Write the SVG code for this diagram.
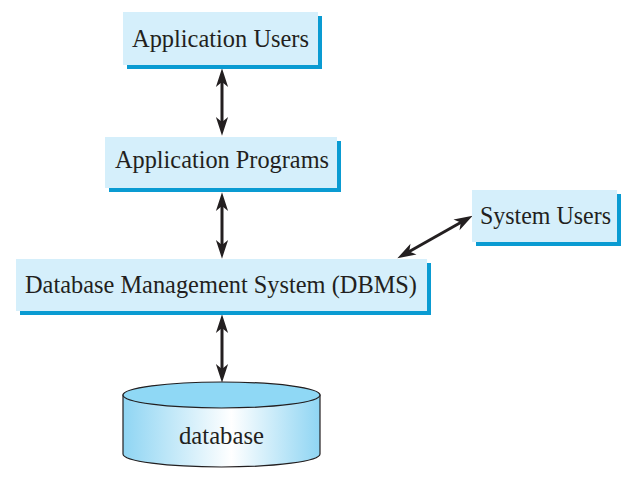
<svg xmlns="http://www.w3.org/2000/svg" width="634" height="479" viewBox="0 0 634 479">
  <style>
    .box { fill: #d5effb; }
    .shadow { fill: #0a9bd2; }
    .label { font-family: "Liberation Serif", "Times New Roman", serif; font-size: 24.4px; fill: #231f20; text-anchor: middle; }
    .conn { stroke: #231f20; stroke-width: 3; fill: none; marker-start: url(#arr); marker-end: url(#arr); }
    .cyl { stroke: #231f20; stroke-width: 1.2; }
  </style>
  <defs>
    <marker id="arr" markerUnits="userSpaceOnUse" markerWidth="24" markerHeight="20" viewBox="-2 -8 22 16" refX="10" refY="0" orient="auto-start-reverse">
      <path d="M0,-5.6 L17,0 L0,5.6 L4.5,0 Z" fill="#231f20"/>
    </marker>
    <linearGradient id="cylgrad" x1="0" y1="0" x2="1" y2="0">
      <stop offset="0" stop-color="#8fd5f3"/>
      <stop offset="0.55" stop-color="#ffffff"/>
      <stop offset="1" stop-color="#8fd5f3"/>
    </linearGradient>
  </defs>

  <g id="connectors">
    <line class="conn" x1="222" y1="76" x2="222" y2="128"/>
    <line class="conn" x1="222" y1="200" x2="222" y2="251"/>
    <line class="conn" x1="222" y1="322" x2="222" y2="375"/>
    <line class="conn" x1="404" y1="254.5" x2="466" y2="219.5"/>
  </g>

  <g id="app-users">
    <rect class="shadow" x="127" y="16" width="195" height="53"/>
    <rect class="box" x="123" y="12" width="195" height="53"/>
    <text class="label" x="220.5" y="47" textLength="177" lengthAdjust="spacingAndGlyphs">Application Users</text>
  </g>

  <g id="app-programs">
    <rect class="shadow" x="109" y="141" width="232" height="51"/>
    <rect class="box" x="105" y="137" width="232" height="51"/>
    <text class="label" x="222" y="168" textLength="214" lengthAdjust="spacingAndGlyphs">Application Programs</text>
  </g>

  <g id="system-users">
    <rect class="shadow" x="476" y="194" width="145" height="52"/>
    <rect class="box" x="472" y="190" width="145" height="52"/>
    <text class="label" x="545.5" y="224" textLength="131" lengthAdjust="spacingAndGlyphs">System Users</text>
  </g>

  <g id="dbms">
    <rect class="shadow" x="20" y="263" width="411" height="52"/>
    <rect class="box" x="16" y="259" width="411" height="52"/>
    <text class="label" x="221" y="293" textLength="392" lengthAdjust="spacingAndGlyphs">Database Management System (DBMS)</text>
  </g>

  <g id="database">
    <path class="cyl" d="M123,395 L123,454 A98.5,13 0 0 0 320,454 L320,395 Z" fill="url(#cylgrad)"/>
    <ellipse class="cyl" cx="221.5" cy="395" rx="98.5" ry="13" fill="#8fd8f5"/>
    <text class="label" x="221.5" y="444" textLength="85" lengthAdjust="spacingAndGlyphs">database</text>
  </g>
</svg>
